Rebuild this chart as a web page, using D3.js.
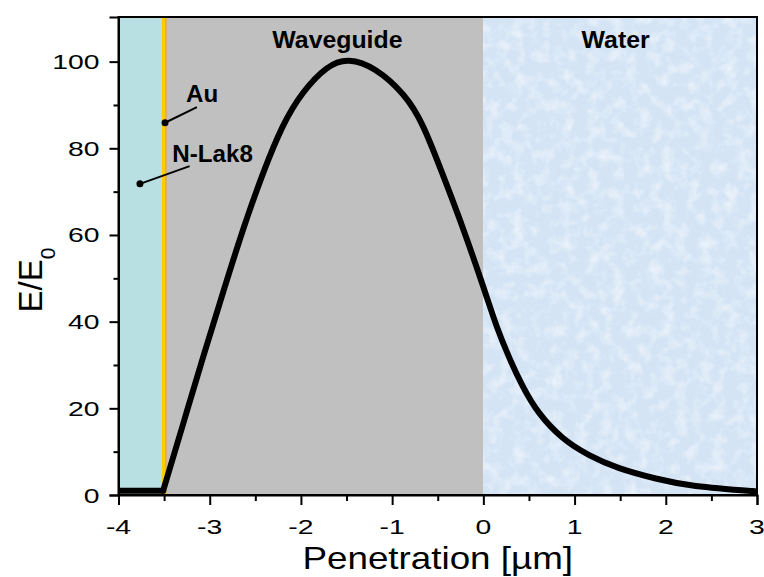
<!DOCTYPE html>
<html><head><meta charset="utf-8">
<script src="https://cdn.jsdelivr.net/npm/d3@7"></script>
<style>body{margin:0;background:#fff}svg{display:block}</style>
</head><body>
<svg id="c" width="764" height="577"></svg>
<script>
// ---- data ----
const substrateX = [-4, -3.51];
const substrateField = [1, 1];
const penetration = [-3.51, -3.29, -3.07, -2.85, -2.63, -2.41, -2.20, -1.98, -1.72, -1.47, -1.18, -0.88, -0.66, -0.45, -0.23, 0, 0.145, 0.29, 0.43, 0.61, 0.87, 1.16, 1.49, 1.89, 2.33, 2.95, 3];
const field = [1, 16.5, 32, 47, 61.5, 74.5, 85, 92.7, 98.4, 100.2, 98, 92.4, 85, 74.2, 61.9, 48, 39, 31.4, 25.2, 19, 13.2, 9.2, 6.2, 3.8, 2.1, 0.9, 0.8];
const xTicks = [-4, -3, -2, -1, 0, 1, 2, 3];
const yTicks = [0, 20, 40, 60, 80, 100];
const xMinor = [-3.5, -2.5, -1.5, -0.5, 0.5, 1.5, 2.5];
const yMinor = [10, 30, 50, 70, 90];
const regionNames = ["N-Lak8", "Au", "Waveguide", "Water"];
const regionStart = [-4, -3.53, -3.48, 0];
const regionEnd = [-3.53, -3.48, 0, 3];
const regionLabels = ["Waveguide", "Water"];
const regionLabelX = [-1.6, 1.45];
const regionLabelY = [103.1, 103.1];
const noteLabels = ["Au", "N-Lak8"];
const noteTextX = [-3.26, -3.41];
const noteTextY = [90.8, 76.9];
const noteDotX = [-3.49, -3.765];
const noteDotY = [85.9, 71.8];
const noteEndX = [-3.14, -3.22];
const noteEndY = [89.5, 75.9];

// ---- styles ----
const regionFill = {"N-Lak8": "#b8dfe1", "Au": "#ffcc00", "Waveguide": "#c0c0c0", "Water": "#d4e4f5"};

const svg = d3.select("#c");
const x = d3.scaleLinear().domain([-4, 3]).range([118.5, 757]);
const y = d3.scaleLinear().domain([0, 110.3]).range([495, 17]);

const defs = svg.append("defs");
const f = defs.append("filter").attr("id", "tex").attr("x", 0).attr("y", 0).attr("width", 1).attr("height", 1);
f.append("feTurbulence").attr("type", "fractalNoise").attr("baseFrequency", 0.08).attr("numOctaves", 3).attr("seed", 4).attr("result", "n");
f.append("feColorMatrix").attr("in", "n").attr("type", "matrix")
  .attr("values", "0 0 0 0 1  0 0 0 0 1  0 0 0 0 1  2.4 0 0 0 -1.05");
const clip = defs.append("clipPath").attr("id", "plot");
clip.append("rect").attr("x", x(-4)).attr("y", y(110.3)).attr("width", x(3) - x(-4)).attr("height", y(0) - y(110.3));

const regions = regionNames.map((n, i) => ({n, a: regionStart[i], b: regionEnd[i]}));
svg.append("g").selectAll("rect").data(regions).join("rect")
  .attr("x", d => x(d.a)).attr("width", d => x(d.b) - x(d.a))
  .attr("y", y(110.3)).attr("height", y(0) - y(110.3))
  .attr("fill", d => regionFill[d.n]);
const w = regions[3];
svg.append("rect").attr("x", x(w.a)).attr("width", x(w.b) - x(w.a))
  .attr("y", y(110.3)).attr("height", y(0) - y(110.3))
  .attr("fill", "#fff").attr("filter", "url(#tex)").attr("opacity", 0.5);
svg.append("line").attr("x1", x(-3.48)).attr("x2", x(-3.48)).attr("y1", y(110.3)).attr("y2", y(0))
  .attr("stroke", "#f0a000").attr("stroke-width", 1);

// curve
const line = d3.line().x(d => x(d[0])).y(d => y(d[1]));
const curveG = svg.append("g").attr("clip-path", "url(#plot)");
curveG.append("path").datum(substrateX.map((p, i) => [p, substrateField[i]]))
  .attr("d", line.curve(d3.curveLinear))
  .attr("fill", "none").attr("stroke", "#000").attr("stroke-width", 6).attr("stroke-linecap", "round");
curveG.append("path").datum(penetration.map((p, i) => [p, field[i]]))
  .attr("d", line.curve(d3.curveNatural))
  .attr("fill", "none").attr("stroke", "#000").attr("stroke-width", 6).attr("stroke-linejoin", "round").attr("stroke-linecap", "round");

// frame
svg.append("rect").attr("x", x(-4)).attr("y", y(110.3)).attr("width", x(3) - x(-4)).attr("height", y(0) - y(110.3))
  .attr("fill", "none").attr("stroke", "#000").attr("stroke-width", 2);

// axes
const xAxis = svg.append("g").attr("transform", `translate(0,${y(0)})`);
xAxis.call(d3.axisBottom(x).tickValues(xTicks).tickSize(10).tickFormat(""))
  .call(g => g.select(".domain").attr("stroke-width", 2))
  .call(g => g.selectAll(".tick line").attr("stroke-width", 2));
xAxis.append("g").call(d3.axisBottom(x).tickValues(xMinor).tickSize(6).tickFormat(""))
  .call(g => g.select(".domain").remove())
  .call(g => g.selectAll(".tick line").attr("stroke-width", 2));
const yAxis = svg.append("g").attr("transform", `translate(${x(-4)},0)`);
yAxis.call(d3.axisLeft(y).tickValues(yTicks).tickSize(9).tickFormat(""))
  .call(g => g.select(".domain").attr("stroke-width", 2))
  .call(g => g.selectAll(".tick line").attr("stroke-width", 2));
yAxis.append("g").call(d3.axisLeft(y).tickValues(yMinor).tickSize(5).tickFormat(""))
  .call(g => g.select(".domain").remove())
  .call(g => g.selectAll(".tick line").attr("stroke-width", 2));

const FONT = "Arial, 'Liberation Sans', sans-serif";
function stext(px, py, txt, size, sx, anchor, weight) {
  return svg.append("text").attr("transform", `translate(${px},${py}) scale(${sx},1)`)
    .attr("text-anchor", anchor).attr("font-family", FONT).attr("font-size", size)
    .attr("font-weight", weight || "normal").attr("fill", "#000").text(txt);
}
xTicks.forEach(t => stext(x(t), y(0) + 39, String(t), 21, 1.35, "middle"));
yTicks.forEach(t => stext(x(-4) - 19, y(t) + 7.5, String(t), 21, 1.35, "end"));

stext((x(-4) + x(3)) / 2, 569, "Penetration [\u00b5m]", 32, 1.15, "middle");

const yt = svg.append("text").attr("transform", "translate(41.7,280) rotate(-90)")
  .attr("text-anchor", "middle").attr("font-family", FONT).attr("font-size", 33).attr("fill", "#000");
yt.append("tspan").text("E/E");
yt.append("tspan").attr("font-size", 21).attr("dy", 13).text("0");

regionLabels.forEach((t, i) => stext(x(regionLabelX[i]), y(regionLabelY[i]), t, 23, 1.08, "middle", "bold"));

noteLabels.forEach((t, i) => {
  svg.append("line").attr("x1", x(noteDotX[i])).attr("y1", y(noteDotY[i]))
    .attr("x2", x(noteEndX[i])).attr("y2", y(noteEndY[i])).attr("stroke", "#000").attr("stroke-width", 2);
  svg.append("circle").attr("cx", x(noteDotX[i])).attr("cy", y(noteDotY[i])).attr("r", 3.5).attr("fill", "#000");
  stext(x(noteTextX[i]), y(noteTextY[i]), t, 23, 1.05, "start", "bold");
});
</script>
</body></html>
